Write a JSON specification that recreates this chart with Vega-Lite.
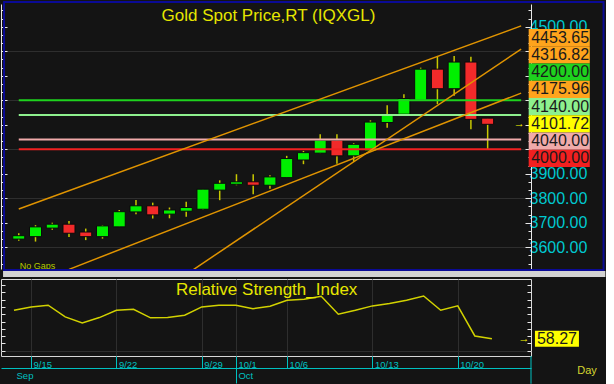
{
  "$schema": "https://vega.github.io/schema/vega-lite/v6.json",
  "background": "#141414",
  "padding": {"left": 0, "top": 0, "right": 0, "bottom": 2},
  "spacing": 0,
  "config": {"view": {"stroke": null}, "font": "Liberation Sans", "text": {"font": "Liberation Sans"}},
  "datasets": {
    "candles": [
      {"i": 0, "date": "9/12", "open": 3633, "high": 3657, "low": 3626, "close": 3647, "rsi": 77.7},
      {"i": 1, "date": "9/15", "open": 3643, "high": 3690, "low": 3623, "close": 3683, "rsi": 80.0},
      {"i": 2, "date": "9/16", "open": 3678, "high": 3700, "low": 3671, "close": 3694, "rsi": 81.2},
      {"i": 3, "date": "9/17", "open": 3694, "high": 3707, "low": 3642, "close": 3657, "rsi": 73.2},
      {"i": 4, "date": "9/18", "open": 3662, "high": 3676, "low": 3629, "close": 3643, "rsi": 69.0},
      {"i": 5, "date": "9/19", "open": 3643, "high": 3690, "low": 3635, "close": 3687, "rsi": 72.7},
      {"i": 6, "date": "9/22", "open": 3683, "high": 3752, "low": 3683, "close": 3745, "rsi": 77.7},
      {"i": 7, "date": "9/23", "open": 3744, "high": 3793, "low": 3735, "close": 3769, "rsi": 78.4},
      {"i": 8, "date": "9/24", "open": 3769, "high": 3782, "low": 3717, "close": 3732, "rsi": 72.5},
      {"i": 9, "date": "9/25", "open": 3735, "high": 3762, "low": 3718, "close": 3752, "rsi": 72.7},
      {"i": 10, "date": "9/26", "open": 3747, "high": 3786, "low": 3724, "close": 3762, "rsi": 74.3},
      {"i": 11, "date": "9/29", "open": 3755, "high": 3838, "low": 3752, "close": 3837, "rsi": 80.0},
      {"i": 12, "date": "9/30", "open": 3833, "high": 3873, "low": 3792, "close": 3861, "rsi": 81.2},
      {"i": 13, "date": "10/1", "open": 3857, "high": 3898, "low": 3853, "close": 3867, "rsi": 81.2},
      {"i": 14, "date": "10/2", "open": 3867, "high": 3898, "low": 3816, "close": 3853, "rsi": 78.8},
      {"i": 15, "date": "10/3", "open": 3853, "high": 3894, "low": 3839, "close": 3887, "rsi": 80.5},
      {"i": 16, "date": "10/6", "open": 3884, "high": 3973, "low": 3884, "close": 3962, "rsi": 84.6},
      {"i": 17, "date": "10/7", "open": 3956, "high": 3993, "low": 3939, "close": 3986, "rsi": 85.3},
      {"i": 18, "date": "10/8", "open": 3984, "high": 4061, "low": 3984, "close": 4037, "rsi": 87.3},
      {"i": 19, "date": "10/9", "open": 4037, "high": 4061, "low": 3941, "close": 3973, "rsi": 75.0},
      {"i": 20, "date": "10/10", "open": 3973, "high": 4025, "low": 3948, "close": 4020, "rsi": 77.7},
      {"i": 21, "date": "10/13", "open": 3993, "high": 4118, "low": 3993, "close": 4111, "rsi": 80.7},
      {"i": 22, "date": "10/14", "open": 4109, "high": 4180, "low": 4088, "close": 4139, "rsi": 82.3},
      {"i": 23, "date": "10/15", "open": 4143, "high": 4224, "low": 4143, "close": 4207, "rsi": 84.6},
      {"i": 24, "date": "10/16", "open": 4200, "high": 4333, "low": 4200, "close": 4327, "rsi": 87.5},
      {"i": 25, "date": "10/17", "open": 4327, "high": 4381, "low": 4184, "close": 4247, "rsi": 77.7},
      {"i": 26, "date": "10/20", "open": 4247, "high": 4381, "low": 4218, "close": 4356, "rsi": 80.7},
      {"i": 27, "date": "10/21", "open": 4356, "high": 4378, "low": 4082, "close": 4122, "rsi": 60.1},
      {"i": 28, "date": "10/22", "open": 4127, "high": 4127, "low": 4000, "close": 4101.72, "rsi": 58.27}
    ],
    "levels": [
      {"level": 4200, "kind": "r4200"},
      {"level": 4140, "kind": "r4140"},
      {"level": 4040, "kind": "s4040"},
      {"level": 4000, "kind": "s4000"}
    ],
    "trends": [
      {"line": "upper channel", "i": 0, "p": 3756},
      {"line": "upper channel", "i": 30.0, "p": 4503.5},
      {"line": "steep trend", "i": 10.4, "p": 3507.2},
      {"line": "steep trend", "i": 30.0, "p": 4408.8},
      {"line": "lower channel", "i": 3.0, "p": 3509.6},
      {"line": "lower channel", "i": 30.0, "p": 4229.3}
    ],
    "labels": [
      {"name": "upper channel", "value": 4453.65, "kind": "trend"},
      {"name": "steep trend", "value": 4316.82, "kind": "trend"},
      {"name": "level 4200", "value": 4200, "kind": "r4200"},
      {"name": "lower channel", "value": 4175.96, "kind": "trend"},
      {"name": "level 4140", "value": 4140, "kind": "r4140"},
      {"name": "last", "value": 4101.72, "kind": "last"},
      {"name": "level 4040", "value": 4040, "kind": "s4040"},
      {"name": "level 4000", "value": 4000, "kind": "s4000"}
    ]
  },
  "vconcat": [
    {
      "width": 530,
      "height": 265,
      "resolve": {"scale": {"y": "independent"}},
      "layer": [
        {
          "resolve": {"axis": {"y": "independent"}},
          "layer": [
            {
              "data": {"values": [{}]},
              "mark": {"type": "rect", "color": "#d2d2d2", "clip": false},
              "encoding": {
                "x": {"datum": -0.938, "type": "quantitative", "scale": {"domain": [-0.762, 30.29], "nice": false, "zero": false}, "axis": null},
                "x2": {"datum": 35.03},
                "y": {"datum": 3502.8, "type": "quantitative", "scale": {"domain": [3511, 4593], "nice": false, "zero": false}, "axis": null},
                "y2": {"datum": 3478.3}
              }
            },
            {
              "data": {"name": "candles"},
              "mark": {"type": "rule", "color": "#c8c800", "strokeWidth": 1.5},
              "encoding": {
                "x": {"field": "i", "type": "quantitative", "scale": {"domain": [-0.762, 30.29], "nice": false, "zero": false},
                  "axis": {"values": [1, 6, 11, 13, 16, 21, 26], "grid": true, "gridColor": "#2e2e2e", "labels": false, "ticks": false, "domain": false, "title": null}},
                "y": {"field": "low", "type": "quantitative", "scale": {"domain": [3511, 4593], "nice": false, "zero": false},
                  "axis": {"orient": "right", "title": null, "grid": false, "domain": true, "domainColor": "#e8e8e8",
                    "values": [3533.33, 3566.67, 3600, 3633.33, 3666.67, 3700, 3733.33, 3766.67, 3800, 3833.33, 3866.67, 3900, 3933.33, 3966.67, 4000, 4033.33, 4066.67, 4100, 4133.33, 4166.67, 4200, 4233.33, 4266.67, 4300, 4333.33, 4366.67, 4400, 4433.33, 4466.67, 4500, 4533.33, 4566.67],
                    "tickColor": "#e8e8e8", "tickSize": {"condition": {"test": "datum.value % 100 == 0", "value": -6}, "value": -3},
                    "labelExpr": "indexof([3600, 3700, 3800, 3900, 4500], datum.value) >= 0 ? format(datum.value, '.2f') : ''",
                    "labelColor": "#00c8d0", "labelFontSize": 16, "labelPadding": 4, "labelFont": "Liberation Sans", "labelOverlap": false, "labelFlush": false}},
                "y2": {"field": "high"}
              }
            },
            {
              "data": {"name": "candles"},
              "mark": {"type": "bar", "width": 12, "stroke": "#0a0a0a", "strokeWidth": 1},
              "encoding": {
                "x": {"field": "i", "type": "quantitative", "scale": {"domain": [-0.762, 30.29], "nice": false, "zero": false}, "axis": null},
                "y": {"field": "open", "type": "quantitative", "scale": {"domain": [3511, 4593], "nice": false, "zero": false}, "axis": null},
                "y2": {"field": "close"},
                "color": {"condition": {"test": "datum.close >= datum.open", "value": "#00f000"}, "value": "#f22a2a"}
              }
            },
            {
              "data": {"name": "levels"},
              "mark": {"type": "rule", "strokeWidth": 2},
              "encoding": {
                "x": {"datum": 0, "type": "quantitative", "scale": {"domain": [-0.762, 30.29], "nice": false, "zero": false}, "axis": null},
                "x2": {"datum": 30.0},
                "y": {"field": "level", "type": "quantitative", "scale": {"domain": [3511, 4593], "nice": false, "zero": false},
                  "axis": {"orient": "left", "title": null, "labels": false, "domain": true, "domainColor": "#e8e8e8",
                    "values": [3533.33, 3566.67, 3600, 3633.33, 3666.67, 3700, 3733.33, 3766.67, 3800, 3833.33, 3866.67, 3900, 3933.33, 3966.67, 4000, 4033.33, 4066.67, 4100, 4133.33, 4166.67, 4200, 4233.33, 4266.67, 4300, 4333.33, 4366.67, 4400, 4433.33, 4466.67, 4500, 4533.33, 4566.67],
                    "grid": true, "gridColor": "#2e2e2e", "gridOpacity": {"condition": {"test": "datum.value % 200 == 0", "value": 1}, "value": 0},
                    "tickColor": "#e8e8e8", "tickSize": {"condition": {"test": "datum.value % 100 == 0", "value": -6}, "value": -3}}},
                "color": {"field": "kind", "type": "nominal", "legend": null,
                  "scale": {"domain": ["trend", "r4200", "r4140", "last", "s4040", "s4000"], "range": ["#ffa41c", "#1ed21e", "#8ef08e", "#ffff00", "#f0aaaa", "#f22020"]}}
              }
            },
            {
              "data": {"name": "trends"},
              "mark": {"type": "line", "color": "#e09400", "strokeWidth": 1.5, "clip": true},
              "encoding": {
                "x": {"field": "i", "type": "quantitative", "scale": {"domain": [-0.762, 30.29], "nice": false, "zero": false}, "axis": null},
                "y": {"field": "p", "type": "quantitative", "scale": {"domain": [3511, 4593], "nice": false, "zero": false}, "axis": null},
                "detail": {"field": "line"}
              }
            },
            {
              "data": {"values": [{}]},
              "mark": {"type": "text", "text": "Gold  Spot  Price,RT  (IQXGL)", "fontSize": 17, "color": "#e6e600", "align": "center", "baseline": "middle"},
              "encoding": {
                "x": {"datum": 14.91, "type": "quantitative", "scale": {"domain": [-0.762, 30.29], "nice": false, "zero": false}, "axis": null},
                "y": {"datum": 4546, "type": "quantitative", "scale": {"domain": [3511, 4593], "nice": false, "zero": false}, "axis": null}
              }
            },
            {
              "data": {"values": [{}]},
              "mark": {"type": "text", "text": "No  Gaps", "fontSize": 9, "color": "#b4c800", "align": "left", "baseline": "middle"},
              "encoding": {
                "x": {"datum": 0.06, "type": "quantitative", "scale": {"domain": [-0.762, 30.29], "nice": false, "zero": false}, "axis": null},
                "y": {"datum": 3524.4, "type": "quantitative", "scale": {"domain": [3511, 4593], "nice": false, "zero": false}, "axis": null}
              }
            },
            {
              "data": {"name": "candles"},
              "transform": [{"filter": "datum.i == 28"}],
              "mark": {"type": "text", "text": "→", "fontSize": 11, "color": "#ffff00", "align": "center", "baseline": "middle"},
              "encoding": {
                "x": {"datum": 29.88, "type": "quantitative", "scale": {"domain": [-0.762, 30.29], "nice": false, "zero": false}, "axis": null},
                "y": {"field": "close", "type": "quantitative", "scale": {"domain": [3511, 4593], "nice": false, "zero": false}, "axis": null}
              }
            },
            {
              "data": {"values": [{}]},
              "mark": {"type": "rect", "fill": "transparent", "stroke": "#0a0a96", "strokeWidth": 2, "clip": false},
              "encoding": {
                "x": {"datum": -0.879, "type": "quantitative", "scale": {"domain": [-0.762, 30.29], "nice": false, "zero": false}, "axis": null},
                "x2": {"datum": 34.92},
                "y": {"datum": 4601.2, "type": "quantitative", "scale": {"domain": [3511, 4593], "nice": false, "zero": false}, "axis": null},
                "y2": {"datum": 3506.9}
              }
            }
          ]
        },
        {
          "data": {"name": "labels"},
          "layer": [
            {
              "mark": {"type": "rect", "clip": false},
              "encoding": {
                "x": {"datum": 30.45, "type": "quantitative", "scale": {"domain": [-0.762, 30.29], "nice": false, "zero": false}, "axis": null},
                "x2": {"datum": 34.1},
                "y": {"field": "name", "type": "ordinal", "sort": {"field": "value", "op": "max", "order": "descending"},
                  "scale": {"type": "band", "range": [25, 163], "paddingInner": 0, "paddingOuter": 0}, "axis": null},
                "color": {"field": "kind", "type": "nominal", "legend": null,
                  "scale": {"domain": ["trend", "r4200", "r4140", "last", "s4040", "s4000"], "range": ["#ffa41c", "#1ed21e", "#8ef08e", "#ffff00", "#f0aaaa", "#f22020"]}}
              }
            },
            {
              "mark": {"type": "text", "align": "left", "baseline": "middle", "fontSize": 16, "color": "#1a1a1a", "clip": false},
              "encoding": {
                "x": {"datum": 30.6, "type": "quantitative", "scale": {"domain": [-0.762, 30.29], "nice": false, "zero": false}, "axis": null},
                "y": {"field": "name", "type": "ordinal", "sort": {"field": "value", "op": "max", "order": "descending"},
                  "scale": {"type": "band", "range": [25, 163], "paddingInner": 0, "paddingOuter": 0}, "axis": null},
                "text": {"field": "value", "type": "quantitative", "format": ".2f"}
              }
            }
          ]
        }
      ]
    },
    {
      "width": 530,
      "height": 77,
      "view": {"stroke": "#d8d8d8", "strokeWidth": 1},
      "data": {"name": "candles"},
      "resolve": {"axis": {"x": "independent", "y": "independent"}},
      "layer": [
        {
          "mark": {"type": "line", "color": "#d2d200", "strokeWidth": 1.5},
          "encoding": {
            "x": {"field": "i", "type": "quantitative", "scale": {"domain": [-0.762, 30.29], "nice": false, "zero": false},
              "axis": {"values": [1, 6, 11, 13, 16, 21, 26], "grid": true, "gridColor": "#2e2e2e", "labels": false, "ticks": false, "domain": false, "title": null}},
            "y": {"field": "rsi", "type": "quantitative", "scale": {"domain": [46.4, 99.1], "nice": false, "zero": false},
              "axis": {"orient": "left", "title": null, "labels": false, "domain": false, "values": [50, 55, 60, 65, 70, 75, 80, 85, 90, 95],
                "grid": true, "gridColor": "#2e2e2e", "gridOpacity": {"condition": {"test": "datum.value == 50", "value": 1}, "value": 0},
                "tickColor": "#e8e8e8", "tickSize": -4}}
          }
        },
        {
          "transform": [{"filter": "datum.i == 28"}],
          "mark": {"type": "rect", "width": 44, "height": 16, "color": "#ffff00", "clip": false},
          "encoding": {
            "x": {"datum": 31.81, "type": "quantitative", "scale": {"domain": [-0.762, 30.29], "nice": false, "zero": false},
              "axis": {"orient": "bottom", "values": [1, 6, 11, 13, 16, 21, 26], "title": null, "grid": false, "domain": false,
                "labelExpr": "datum.value == 1 ? '9/15' : datum.value == 6 ? '9/22' : datum.value == 11 ? '9/29' : datum.value == 13 ? '10/1' : datum.value == 16 ? '10/6' : datum.value == 21 ? '10/13' : '10/20'",
                "tickColor": "#00c0c0", "tickSize": 12, "tickWidth": 1, "labelColor": "#00c0c0", "labelFontSize": 9.5, "labelFont": "Liberation Sans",
                "labelAlign": "left", "labelBaseline": "top", "labelOffset": 2, "labelPadding": -9, "labelOverlap": false, "labelFlush": false}},
            "y": {"field": "rsi", "type": "quantitative", "scale": {"domain": [46.4, 99.1], "nice": false, "zero": false},
              "axis": {"orient": "right", "title": null, "labels": false, "domain": false, "grid": false, "values": [50, 55, 60, 65, 70, 75, 80, 85, 90, 95],
                "tickColor": "#e8e8e8", "tickSize": -4}}
          }
        },
        {
          "transform": [{"filter": "datum.i == 28"}],
          "mark": {"type": "text", "fontSize": 16, "color": "#1a1a1a", "align": "center", "baseline": "middle", "clip": false},
          "encoding": {
            "x": {"datum": 31.81, "type": "quantitative", "scale": {"domain": [-0.762, 30.29], "nice": false, "zero": false},
              "axis": {"orient": "bottom", "offset": 12, "values": [0, 13], "title": null, "grid": false, "domain": true, "domainColor": "#00c0c0",
                "labelExpr": "datum.value == 0 ? 'Sep' : 'Oct'",
                "tickColor": "#00c0c0", "tickSize": 15, "tickOpacity": {"condition": {"test": "datum.value == 0", "value": 0}, "value": 1},
                "labelColor": "#00c0c0", "labelFontSize": 9.5, "labelFont": "Liberation Sans",
                "labelAlign": "left", "labelBaseline": "top", "labelOffset": 2, "labelPadding": -13, "labelOverlap": false, "labelFlush": false}},
            "y": {"field": "rsi", "type": "quantitative", "scale": {"domain": [46.4, 99.1], "nice": false, "zero": false}, "axis": null},
            "text": {"field": "rsi", "type": "quantitative", "format": ".2f"}
          }
        },
        {
          "transform": [{"filter": "datum.i == 28"}],
          "mark": {"type": "text", "text": "→", "fontSize": 11, "color": "#ffff00", "align": "center", "baseline": "middle", "clip": false},
          "encoding": {
            "x": {"datum": 29.88, "type": "quantitative", "scale": {"domain": [-0.762, 30.29], "nice": false, "zero": false}, "axis": null},
            "y": {"field": "rsi", "type": "quantitative", "scale": {"domain": [46.4, 99.1], "nice": false, "zero": false}, "axis": null}
          }
        },
        {
          "data": {"values": [{}]},
          "mark": {"type": "text", "text": "Relative  Strength_Index", "fontSize": 17, "color": "#e6e600", "align": "center", "baseline": "middle"},
          "encoding": {
            "x": {"datum": 14.8, "type": "quantitative", "scale": {"domain": [-0.762, 30.29], "nice": false, "zero": false}, "axis": null},
            "y": {"datum": 91.9, "type": "quantitative", "scale": {"domain": [46.4, 99.1], "nice": false, "zero": false}, "axis": null}
          }
        },
        {
          "data": {"values": [{}]},
          "mark": {"type": "text", "text": "Day", "fontSize": 11, "color": "#d4d430", "align": "center", "baseline": "middle", "clip": false},
          "encoding": {
            "x": {"datum": 33.57, "type": "quantitative", "scale": {"domain": [-0.762, 30.29], "nice": false, "zero": false}, "axis": null},
            "y": {"datum": 35.8, "type": "quantitative", "scale": {"domain": [46.4, 99.1], "nice": false, "zero": false}, "axis": null}
          }
        },
        {
          "data": {"values": [{}]},
          "mark": {"type": "rule", "color": "#00c0c0", "strokeWidth": 1, "clip": false},
          "encoding": {
            "x": {"datum": 30.29, "type": "quantitative", "scale": {"domain": [-0.762, 30.29], "nice": false, "zero": false}, "axis": null},
            "y": {"datum": 46.4, "type": "quantitative", "scale": {"domain": [46.4, 99.1], "nice": false, "zero": false}, "axis": null},
            "y2": {"datum": 27.4}
          }
        }
      ]
    }
  ]
}
